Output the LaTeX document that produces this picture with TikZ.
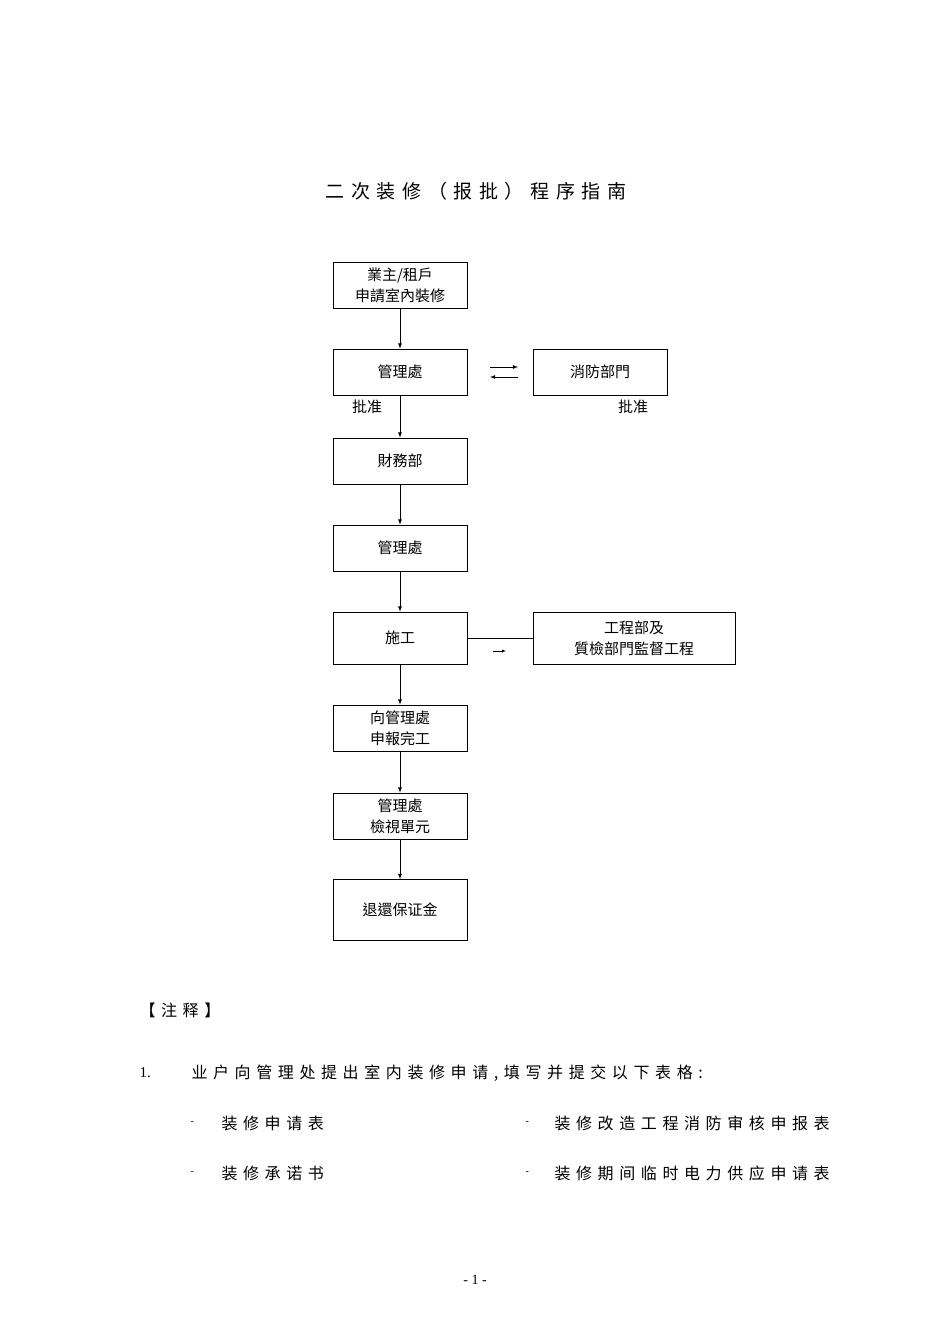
\documentclass[tikz,border=0pt]{standalone}
\usepackage{fontspec}
\setmainfont{Liberation Serif}
\newfontfamily\tcfont{Noto Sans CJK TC}
\newfontfamily\scfont{Noto Sans CJK SC}[LetterSpace=35]
\usetikzlibrary{positioning}
\tikzset{
  box/.style={draw,thick,minimum width=134pt,minimum height=46pt,align=center,font=\tcfont\fontsize{15}{21}\selectfont},
  flow/.style={thick,->,>=latex},
  note/.style={anchor=west,font=\scfont\fontsize{16}{20}\selectfont}
}
\begin{document}
\begin{tikzpicture}[x=1pt,y=-1pt]
\useasboundingbox (0,0) rectangle (950,1344);

\node[font=\scfont\fontsize{19}{24}\selectfont] (title) at (476,191) {二次装修（报批）程序指南};

\node[box] (apply) at (400,285) {業主/租戶\\申請室內裝修};
\node[box] (mgmt1) at (400,372) {管理處};
\node[box] (fire) at (600,372) {消防部門};
\node[box] (fin) at (400,461) {財務部};
\node[box] (mgmt2) at (400,548) {管理處};
\node[box,minimum height=52pt] (work) at (400,638) {施工};
\node[box,minimum width=202pt,minimum height=52pt] (eng) at (634,638) {工程部及\\質檢部門監督工程};
\node[box] (report) at (400,728) {向管理處\\申報完工};
\node[box] (check) at (400,816) {管理處\\檢視單元};
\node[box,minimum height=61pt] (refund) at (400,910) {退還保证金};

\node[font=\tcfont\fontsize{15}{18}\selectfont] (ok1) at (367,407) {批准};
\node[font=\tcfont\fontsize{15}{18}\selectfont] (ok2) at (633,407) {批准};

\draw[flow] (apply) -- (mgmt1);
\draw[flow] (mgmt1) -- (fin);
\draw[flow] (fin) -- (mgmt2);
\draw[flow] (mgmt2) -- (work);
\draw[flow] (work) -- (report);
\draw[flow] (report) -- (check);
\draw[flow] (check) -- (refund);
\draw (work) -- (eng);

% double arrow between mgmt1 and fire
\coordinate (da) at (490,367);
\coordinate (db) at (518,367);
\coordinate (dc) at (490,377);
\coordinate (dd) at (518,377);
\draw[flow] (da) -- (db);
\draw[flow] (dd) -- (dc);
\coordinate (sa) at (493,651);
\coordinate (sb) at (506,651);
\draw[->,>=latex] (sa) -- (sb);

\node[anchor=west,font=\scfont\fontsize{16}{20}\selectfont] (notes) at (136,1010) {【注释】};
\node[anchor=west,font=\fontsize{15}{18}\selectfont] (n1) at (136,1073) {1.};
\node[note] (t1) at (188,1073) {业户向管理处提出室内装修申请,填写并提交以下表格:};
\node[anchor=west] (d1) at (187,1123) {-};
\node[note] (f1) at (218,1123) {装修申请表};
\node[anchor=west] (d2) at (522,1123) {-};
\node[note] (f2) at (551,1123) {装修改造工程消防审核申报表};
\node[anchor=west] (d3) at (187,1173) {-};
\node[note] (f3) at (218,1173) {装修承诺书};
\node[anchor=west] (d4) at (522,1173) {-};
\node[note] (f4) at (551,1173) {装修期间临时电力供应申请表};

\node[font=\fontsize{14}{16}\selectfont] (page) at (475,1280) {- 1 -};
\end{tikzpicture}
\end{document}
